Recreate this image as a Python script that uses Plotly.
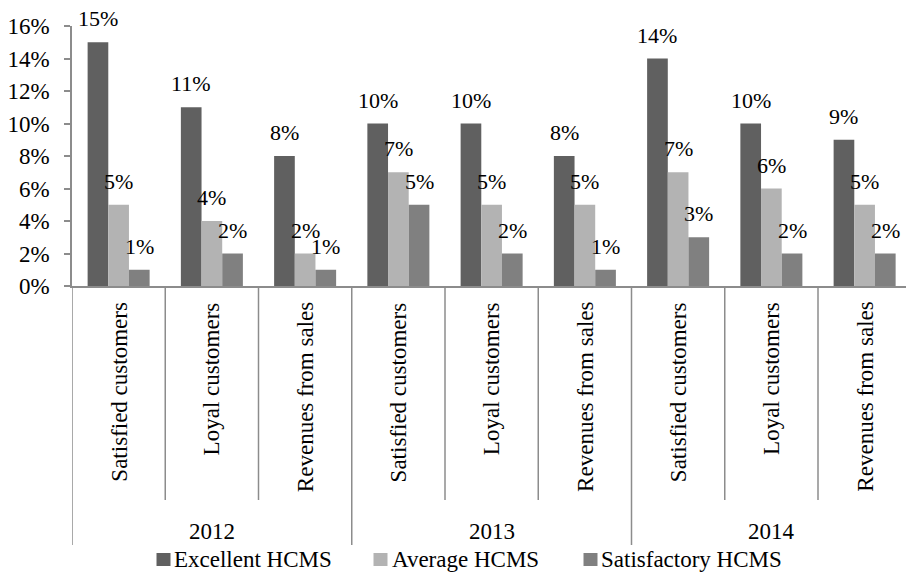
import plotly.graph_objects as go

# --- data -------------------------------------------------------------
years = ["2012", "2013", "2014"]
metrics = ["Satisfied customers", "Loyal customers", "Revenues from sales"]
series_names = ["Excellent HCMS", "Average HCMS", "Satisfactory HCMS"]
excellent = [15, 11, 8, 10, 10, 8, 14, 10, 9]
average = [5, 4, 2, 7, 5, 5, 7, 6, 5]
satisfactory = [1, 2, 1, 5, 2, 1, 3, 2, 2]
y_ticks = [0, 2, 4, 6, 8, 10, 12, 14, 16]
y_tick_text = [f"{v}%" for v in y_ticks]

# --- styling ----------------------------------------------------------
colors = ["#606060", "#b3b3b3", "#808080"]
FONT = "Liberation Serif"
FS = 23
AXIS = "#8c8c8c"

W, H = 906, 574
ML, MT, MB = 72, 26, 288
PLOT_W = W - ML
PLOT_H = H - MT - MB
CAT_W = 93.25          # pixel width of one category slot
BARGAP = 0.335

labels = [m for _ in years for m in metrics]
xs = list(range(len(labels)))
series = [excellent, average, satisfactory]


def px_x(p):
    return (p - ML) / PLOT_W


def px_y(p):
    return (H - MB - p) / PLOT_H


def txt(size=FS):
    return dict(family=FONT, size=size, color="black")


fig = go.Figure()
for name, vals, col in zip(series_names, series, colors):
    fig.add_trace(go.Bar(
        x=xs, y=vals, name=name, marker_color=col,
        marker_line_width=0, showlegend=False,
    ))

# value labels above each bar
n = len(series)
bar_w = (1 - BARGAP) / n
for k, vals in enumerate(series):
    off = (k - (n - 1) / 2) * bar_w
    for i, v in zip(xs, vals):
        fig.add_annotation(
            x=i + off, y=v, xref="x", yref="y", text=f"{v}%",
            showarrow=False, yanchor="bottom", yshift=9, font=txt(22),
        )

# rotated category labels
for i, lab in zip(xs, labels):
    fig.add_annotation(
        x=i, y=px_y(300), xref="x", yref="paper", text=lab,
        textangle=-90, showarrow=False, yanchor="top", xanchor="center",
        font=txt(),
    )

# year labels under each group
per = len(metrics)
for g, yr in enumerate(years):
    centre = sum(xs[g * per:(g + 1) * per]) / per
    fig.add_annotation(
        x=centre, y=px_y(531), xref="x", yref="paper", text=yr,
        showarrow=False, yanchor="middle", xanchor="center", font=txt(),
    )

# divider lines between categories and between years
for b in range(len(labels) + 1):
    xb = b - 0.5
    bottom = px_y(545) if b % per == 0 else px_y(500)
    fig.add_shape(
        type="line", xref="x", yref="paper", x0=xb, x1=xb,
        y0=0, y1=bottom, line=dict(color=AXIS, width=1.5),
    )

# legend row
legend_sq = [163.5, 380.5, 590.5]
legend_tx = [173, 390.5, 600]
for name, col, sx, tx in zip(series_names, colors, legend_sq, legend_tx):
    fig.add_shape(
        type="rect", xref="paper", yref="paper",
        x0=px_x(sx - 7), x1=px_x(sx + 7), y0=px_y(566), y1=px_y(553),
        fillcolor=col, line=dict(width=0),
    )
    fig.add_annotation(
        x=px_x(tx), y=px_y(559), xref="paper", yref="paper", text=name,
        showarrow=False, xanchor="left", yanchor="middle", xshift=-1,
        font=txt(),
    )

fig.update_layout(
    width=W, height=H,
    margin=dict(l=ML, r=0, t=MT, b=MB, pad=0),
    paper_bgcolor="white", plot_bgcolor="white",
    barmode="group", bargap=BARGAP, bargroupgap=0,
    font=txt(),
    showlegend=False,
    xaxis=dict(
        range=[-0.5, -0.5 + PLOT_W / CAT_W], showticklabels=False,
        ticks="", showgrid=False, zeroline=False, showline=True,
        linecolor=AXIS, linewidth=1.5,
    ),
    yaxis=dict(
        range=[0, 16], tickmode="array", tickvals=y_ticks,
        ticktext=y_tick_text,
        ticks="outside", ticklen=6, tickcolor=AXIS, tickwidth=1.5,
        ticklabelstandoff=10,
        showgrid=False, zeroline=False, showline=True,
        linecolor=AXIS, linewidth=1.5,
        tickfont=txt(),
    ),
)

fig.write_html("out.html")
